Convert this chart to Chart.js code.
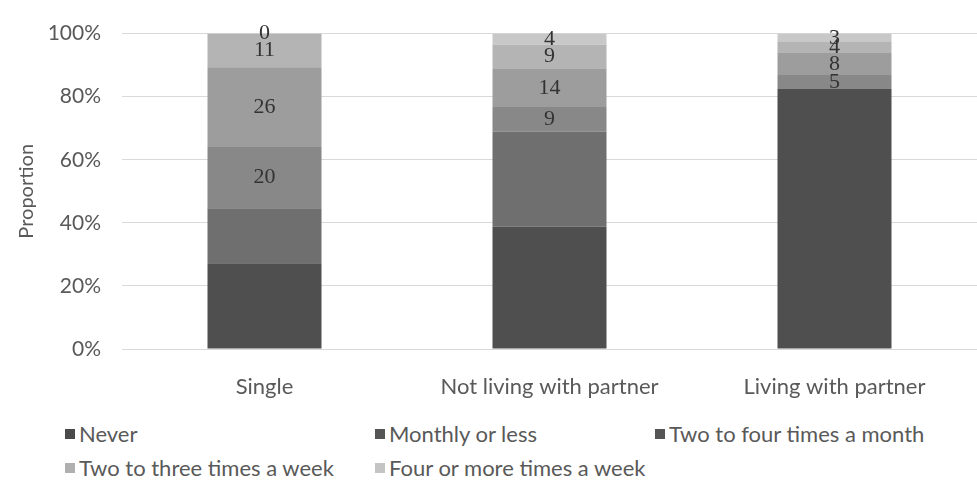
<!DOCTYPE html>
<html>
<head>
<meta charset="utf-8">
<script src="https://cdn.jsdelivr.net/npm/chart.js@4"></script>
<style>
  body { margin: 0; background: #fff; }
  #wrap { position: relative; width: 977px; height: 494px; }
  #chart-box { position: absolute; left: 0; top: 0; width: 977px; height: 410px; }
  #legend {
      position: absolute; left: 65px; top: 421px;
      display: grid; grid-template-columns: 310px 280px auto; row-gap: 8px;
      font-family: Lato, sans-serif; font-size: 22px; color: #595959;
  }
  #legend span.item { display: flex; align-items: center; white-space: nowrap; line-height: 26px; }
  #legend i { display: inline-block; width: 10px; height: 10px; margin-right: 4px; }
</style>
</head>
<body>
<div id="wrap">
  <div id="chart-box"><canvas id="freq-chart"></canvas></div>
  <div id="legend"></div>
</div>
<script>
// counts per group, stacked to 100%
const categories = ['Single', 'Not living with partner', 'Living with partner'];
const never      = [28, 45, 94];
const monthly    = [18, 35, 0];
const twoFour    = [20, 9, 5];
const twoThree   = [26, 14, 8];
const fourPlus   = [11, 9, 4];
const other      = [0, 4, 3];
const yTicks     = [0, 20, 40, 60, 80, 100];

const seriesNames  = ['Never', 'Monthly or less', 'Two to four times a month',
                      'Two to three times a week', 'Four or more times a week', ''];
const seriesCounts = [never, monthly, twoFour, twoThree, fourPlus, other];
const barColours   = ['#4f4f4f', '#6f6f6f', '#888888', '#9d9d9d', '#b4b4b4', '#c8c8c8'];
const keyColours   = ['#4a4a4a', '#555555', '#555555', '#b0b0b0', '#c4c4c4'];

const totals = categories.map((_, i) => seriesCounts.reduce((s, arr) => s + arr[i], 0));

// labels on the upper segments only, like the original
const segLabels = {
    id: 'segLabels',
    afterDatasetsDraw(chart) {
        const c = chart.ctx;
        c.save();
        c.font = '22px "Liberation Serif", serif';
        c.fillStyle = '#333333';
        c.textAlign = 'center';
        c.textBaseline = 'middle';
        for (let d = 2; d < seriesCounts.length; d++) {
            chart.getDatasetMeta(d).data.forEach((bar, i) => {
                const mid = (bar.y + bar.base) / 2;
                c.fillText(String(seriesCounts[d][i]), bar.x, mid);
            });
        }
        c.restore();
    }
};

const chart = new Chart(document.getElementById('freq-chart'), {
    type: 'bar',
    data: {
        labels: categories,
        datasets: seriesCounts.map((arr, d) => ({
            label: seriesNames[d],
            data: arr.map((v, i) => v / totals[i] * 100),
            backgroundColor: barColours[d],
            borderWidth: 0,
            categoryPercentage: 1,
            barPercentage: 0.4,
        })),
    },
    options: {
        responsive: true,
        maintainAspectRatio: false,
        animation: false,
        layout: { padding: { top: 26, left: 15, right: 0, bottom: 0 } },
        plugins: {
            legend: { display: false },
            tooltip: { enabled: false },
        },
        scales: {
            x: {
                stacked: true,
                grid: { display: false },
                border: { color: '#d9d9d9' },
                ticks: {
                    color: '#595959',
                    padding: 17,
                    font: { family: 'Lato', size: 22 },
                },
                afterFit: s => { s.height = 61; },
            },
            y: {
                stacked: true,
                min: 0,
                max: 100,
                afterBuildTicks: s => { s.ticks = yTicks.map(v => ({ value: v })); },
                grid: { color: '#d9d9d9', drawTicks: false },
                border: { display: false },
                ticks: {
                    color: '#595959',
                    padding: 21,
                    font: { family: 'Lato', size: 21 },
                    callback: v => v + '%',
                },
                title: {
                    display: true,
                    text: 'Proportion',
                    color: '#595959',
                    font: { family: 'Lato', size: 20 },
                    padding: 0,
                },
                afterFit: s => { s.width = 107; },
            },
        },
    },
    plugins: [segLabels],
});

// legend laid out in columns like the source figure
const legendEl = document.getElementById('legend');
seriesNames.slice(0, 5).forEach((name, d) => {
    const item = document.createElement('span');
    item.className = 'item';
    item.innerHTML = `<i style="background:${keyColours[d]}"></i>${name}`;
    legendEl.appendChild(item);
});
</script>
</body>
</html>
